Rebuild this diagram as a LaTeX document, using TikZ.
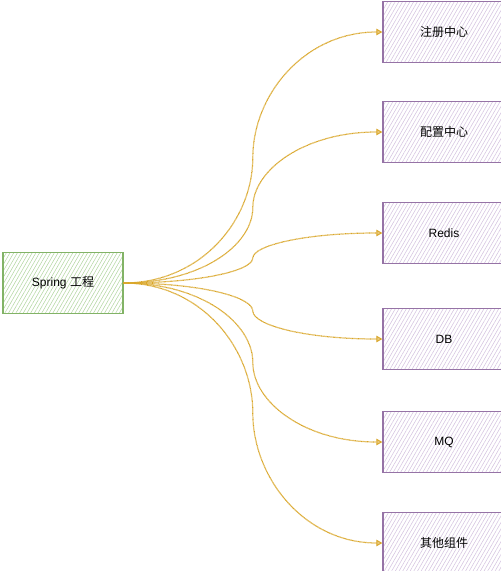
\documentclass[tikz,border=0pt]{standalone}
\usepackage{fontspec}
\setmainfont{Liberation Sans}
\newfontfamily\cjk{Noto Sans CJK SC}
\usetikzlibrary{patterns.meta,arrows.meta,calc}
\definecolor{gborder}{HTML}{82B366}
\definecolor{ghatch}{HTML}{B3D6A2}
\definecolor{pborder}{HTML}{9673A6}
\definecolor{phatch}{HTML}{D4C3DF}
\definecolor{arrowc}{HTML}{D9A526}
\tikzset{
  x=1pt,y=-1pt,
  greenbox/.style={draw=gborder,line width=1.3pt,minimum width=120pt,minimum height=61pt,
    pattern={Lines[angle=60,distance=3.2pt,line width=0.55pt]},pattern color=ghatch,
    font=\fontsize{12}{14}\selectfont,inner sep=0pt},
  purplebox/.style={draw=pborder,line width=1.3pt,minimum width=122pt,minimum height=61pt,
    pattern={Lines[angle=60,distance=3.2pt,line width=0.55pt]},pattern color=phatch,
    font=\fontsize{12}{14}\selectfont,inner sep=0pt},
  conn/.style={draw=arrowc,line width=1.2pt,dash pattern=on 0.7pt off 0.5pt,
    -{Triangle[open,length=6pt,width=6.5pt,line width=0.9pt,fill=arrowc!60]}}
}
\begin{document}
\begin{tikzpicture}
\useasboundingbox (0,0) rectangle (501,571);
\node[greenbox] (spring) at (63,283) {Spring {\cjk 工程}};
\node[purplebox] (a) at (444,32) {\cjk 注册中心};
\node[purplebox] (b) at (444,132) {\cjk 配置中心};
\node[purplebox] (c) at (444,233) {Redis};
\node[purplebox] (d) at (444,339) {DB};
\node[purplebox] (e) at (444,442) {MQ};
\node[purplebox] (f) at (444,543) {\cjk 其他组件};
\foreach \t in {a,b,c,d,e,f}{
  \coordinate (m\t) at ($(spring.east)!0.5!(\t.west)$);
  \draw[conn] (spring.east)
    .. controls ($(spring.east)!0.6!(spring.east -| m\t)$) and ($(m\t)!0.5!(m\t |- spring.east)$) .. (m\t)
    .. controls ($(m\t)!0.5!(m\t |- \t.west)$) and ($(\t.west)!0.6!(\t.west -| m\t)$) .. (\t.west);
}
\end{tikzpicture}
\end{document}
